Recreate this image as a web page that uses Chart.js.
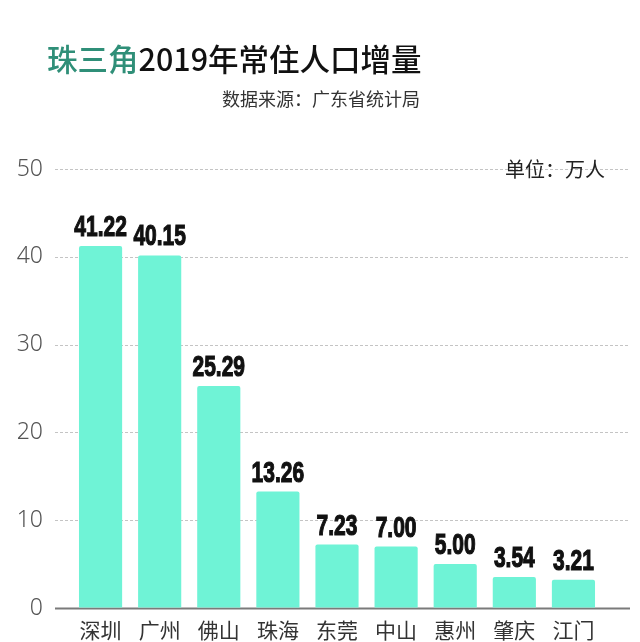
<!DOCTYPE html>
<html>
<head>
<meta charset="utf-8">
<script src="https://cdn.jsdelivr.net/npm/chart.js@4"></script>
<style>
  body { margin: 0; background: #fff; }
  #wrap { position: relative; width: 640px; height: 642px; overflow: hidden; }
  #chart { position: absolute; left: 0; top: 0; }
  .txt { position: absolute; font-family: "Noto Sans CJK SC", sans-serif; white-space: nowrap; }
  #title { left: 47px; top: 36px; font-size: 30.5px; font-weight: 500; color: #111; }
  #title span { color: #2f8f78; }
  #source { left: 222px; top: 85px; font-size: 18px; color: #333; }
  #unit { left: 505px; top: 154px; font-size: 20px; color: #222; }
</style>
</head>
<body>
<div id="wrap">
  <canvas id="chart" width="640" height="642"></canvas>
  <div class="txt" id="title"><span>珠三角</span>2019年常住人口增量</div>
  <div class="txt" id="source">数据来源：广东省统计局</div>
  <div class="txt" id="unit">单位：万人</div>
</div>
<script>
const cities = ['深圳', '广州', '佛山', '珠海', '东莞', '中山', '惠州', '肇庆', '江门'];
const increase = [41.22, 40.15, 25.29, 13.26, 7.23, 7.00, 5.00, 3.54, 3.21];
const yTicks = [0, 10, 20, 30, 40, 50];

// dashed grid lines, wider than the bar area
const gridPlugin = {
    id: 'grid',
    beforeDatasetsDraw(chart) {
        const ctx = chart.ctx;
        const y = chart.scales.y;
        ctx.save();
        yTicks.forEach(function(t) {
            const py = Math.round(y.getPixelForValue(t)) + 0.5;
            ctx.beginPath();
            if (t === 0) {
                ctx.setLineDash([]);
                ctx.strokeStyle = '#7a7a7a';
                ctx.lineWidth = 2;
            } else {
                ctx.setLineDash([3, 2]);
                ctx.strokeStyle = '#c4c4c4';
                ctx.lineWidth = 1;
            }
            ctx.moveTo(55, py);
            ctx.lineTo(630, py);
            ctx.stroke();
        });
        ctx.restore();
    }
};

// value labels over the bars, squeezed to look condensed
const labelPlugin = {
    id: 'barLabels',
    afterDatasetsDraw(chart) {
        const ctx = chart.ctx;
        const meta = chart.getDatasetMeta(0);
        ctx.save();
        ctx.font = 'bold 30px "Liberation Sans", sans-serif';
        ctx.fillStyle = '#111';
        ctx.strokeStyle = '#111';
        ctx.lineWidth = 1.2;
        ctx.textAlign = 'center';
        ctx.textBaseline = 'alphabetic';
        meta.data.forEach(function(bar, i) {
            ctx.save();
            ctx.translate(bar.x, bar.y - 10);
            ctx.scale(0.7, 1);
            ctx.fillText(increase[i].toFixed(2), 0, 0);
            ctx.strokeText(increase[i].toFixed(2), 0, 0);
            ctx.restore();
        });
        ctx.restore();
    }
};

new Chart(document.getElementById('chart'), {
    type: 'bar',
    data: {
        labels: cities,
        datasets: [{
            data: increase,
            backgroundColor: '#6ff3d6',
            borderRadius: 2,
            borderSkipped: 'bottom',
            barPercentage: 0.73,
            categoryPercentage: 1
        }]
    },
    options: {
        responsive: false,
        animation: false,
        layout: { padding: { top: 169, right: 37, left: 0, bottom: 0 } },
        plugins: { legend: { display: false }, tooltip: { enabled: false } },
        scales: {
            x: {
                grid: { display: false, drawTicks: false },
                border: { display: false },
                ticks: {
                    color: '#333',
                    padding: 9,
                    maxRotation: 0,
                    font: { family: '"Noto Sans CJK SC", sans-serif', size: 21 }
                },
                afterFit(scale) { scale.height = 34; }
            },
            y: {
                min: 0,
                max: 50,
                // invisible grid: only its tick length is used to place the labels
                grid: { color: 'transparent', drawTicks: true, tickLength: 28 },
                border: { display: false },
                ticks: {
                    stepSize: 10,
                    color: '#555',
                    padding: 0,
                    font: { family: '"Noto Sans", sans-serif', size: 23, weight: '300' }
                },
                afterFit(scale) { scale.width = 71; }
            }
        }
    },
    plugins: [gridPlugin, labelPlugin]
});
</script>
</body>
</html>
